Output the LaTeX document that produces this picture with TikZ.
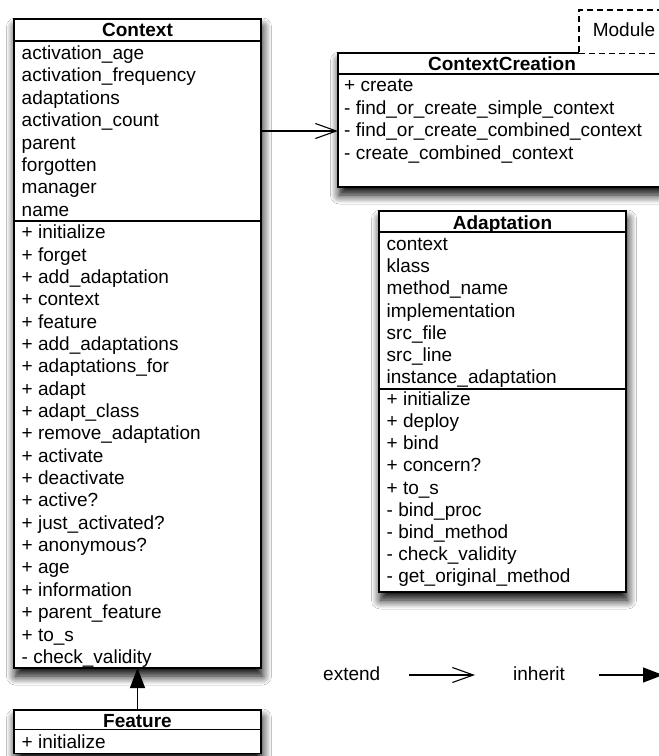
\documentclass[tikz,border=0pt]{standalone}
\usepackage{fontspec}
\setmainfont{Liberation Sans}
\usetikzlibrary{arrows.meta,shadows.blur}

\tikzset{
  txt/.style={font=\fontsize{19pt}{22pt}\selectfont, inner sep=0pt},
  classbox/.style={draw, line width=1.5pt, fill=white, inner sep=0pt, outer sep=0pt,
    anchor=north west,
    blur shadow={shadow xshift=1.5pt, shadow yshift=-8pt, shadow blur radius=9pt,
      shadow opacity=100, shadow blur steps=12}},
  sepline/.style={line width=1.4pt},
  hdr/.style={txt, font=\fontsize{19pt}{22pt}\selectfont\bfseries, anchor=base},
  row/.style={txt, anchor=base west},
  modbox/.style={draw, fill=white, line width=1.2pt, dash pattern=on 6pt off 4pt,
    inner sep=0pt, outer sep=0pt, anchor=north west},
  extends/.style={-{Straight Barb[length=21pt,width=15pt]}, line width=1.1pt},
  inherits/.style={-{Triangle[length=20pt,width=15pt]}, line width=1.3pt},
}

\begin{document}
\begin{tikzpicture}[x=1pt, y=-1pt]
\path[use as bounding box] (0,0) rectangle (659,756);
\clip (0,0) rectangle (659,756);
\fill[white] (0,0) rectangle (659,756);

% ---- class Context ----
\node[classbox, minimum width=247pt, minimum height=649pt] (ctx) at (14,19) {};
\draw[sepline] (ctx.north west |- 0,41) -- (ctx.north east |- 0,41);
\draw[sepline] (ctx.north west |- 0,221) -- (ctx.north east |- 0,221);
\node[hdr] (ctx-h) at (137.5,36) {Context};
\foreach \t [count=\k from 0] in {activation\_age,activation\_frequency,adaptations,
    activation\_count,parent,forgotten,manager,name}
  \node[row] (ctx-a\k) at (21.5,59.3+22.43*\k) {\t};
\foreach \t [count=\k from 0] in {+ initialize,+ forget,+ add\_adaptation,+ context,
    + feature,+ add\_adaptations,+ adaptations\_for,+ adapt,+ adapt\_class,
    + remove\_adaptation,+ activate,+ deactivate,+ active?,+ just\_activated?,
    + anonymous?,+ age,+ information,+ parent\_feature,+ to\_s,- check\_validity}
  \node[row] (ctx-m\k) at (21.5,238.7+22.35*\k) {\t};

% ---- class Feature ----
\node[classbox, minimum width=247pt, minimum height=43.5pt] (feat) at (14,710) {};
\draw[sepline] (feat.north west |- 0,729.5) -- (feat.north east |- 0,729.5);
\node[hdr] (feat-h) at (137.5,727) {Feature};
\node[row] (feat-m0) at (21.5,748) {+ initialize};

% ---- class ContextCreation ----
\node[classbox, minimum width=328pt, minimum height=134pt] (cc) at (338,53) {};
\draw[sepline] (cc.north west |- 0,74) -- (cc.north east |- 0,74);
\node[hdr] (cc-h) at (502,70) {ContextCreation};
\foreach \t [count=\k from 0] in {+ create,- find\_or\_create\_simple\_context,
    - find\_or\_create\_combined\_context,- create\_combined\_context}
  \node[row] (cc-m\k) at (344,91.7+22.6*\k) {\t};

% ---- module frame ----
\node[modbox, minimum width=90pt, minimum height=43.6pt] (mod) at (579,10) {};
\node[txt, anchor=base] (mod-t) at (624,36.7) {Module};

% ---- class Adaptation ----
\node[classbox, minimum width=247pt, minimum height=381pt] (adp) at (379,211) {};
\draw[sepline] (adp.north west |- 0,232) -- (adp.north east |- 0,232);
\draw[sepline] (adp.north west |- 0,389) -- (adp.north east |- 0,389);
\node[hdr] (adp-h) at (502.5,229) {Adaptation};
\foreach \t [count=\k from 0] in {context,klass,method\_name,implementation,
    src\_file,src\_line,instance\_adaptation}
  \node[row] (adp-a\k) at (386.5,250.7+22.13*\k) {\t};
\foreach \t [count=\k from 0] in {+ initialize,+ deploy,+ bind,+ concern?,+ to\_s,
    - bind\_proc,- bind\_method,- check\_validity,- get\_original\_method}
  \node[row] (adp-m\k) at (386.5,405.6+22.13*\k) {\t};

% ---- relations ----
\coordinate (link) at (300,131);
\draw[extends] (ctx.east |- link) -- (cc.west |- link);
\draw[inherits] (feat.north) -- (ctx.south);

% ---- legend ----
\node[row] (lg-ext) at (323,680.7) {extend};
\coordinate (lg-e1) at (409,675);
\coordinate (lg-e2) at (475,675);
\draw[extends] (lg-e1) -- (lg-e2);
\node[row] (lg-inh) at (513,680.7) {inherit};
\coordinate (lg-i1) at (599,675);
\coordinate (lg-i2) at (663,675);
\draw[inherits] (lg-i1) -- (lg-i2);
\end{tikzpicture}
\end{document}
